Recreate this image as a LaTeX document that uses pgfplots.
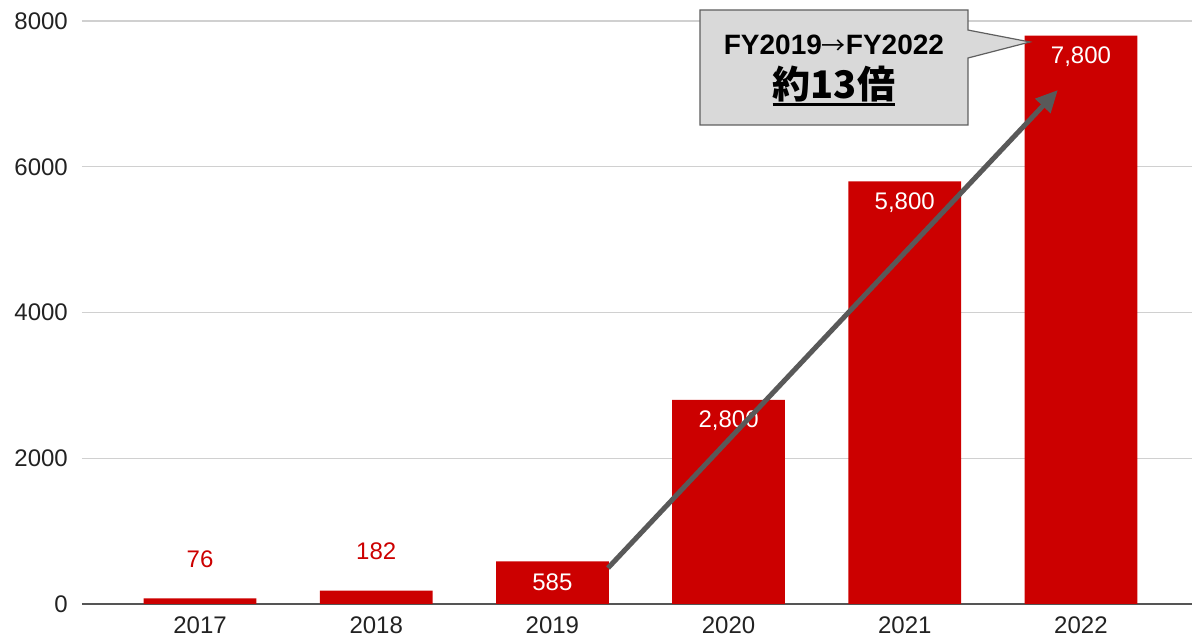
\documentclass[border=0pt]{standalone}
\usepackage{pgfplots}
\pgfplotsset{compat=1.18}
\usepackage{fontspec}
\setmainfont{Liberation Sans}
\newfontfamily\cjk{Noto Sans CJK JP}
\usetikzlibrary{arrows.meta}
\definecolor{barred}{HTML}{CC0000}
\definecolor{gridgray}{HTML}{D0D0D0}
\definecolor{axisgray}{HTML}{555555}
\definecolor{boxgray}{HTML}{D9D9D9}
\definecolor{boxborder}{HTML}{5F5F5F}
\definecolor{arrowgray}{HTML}{595959}
\definecolor{txt}{HTML}{222222}
\begin{document}
\begin{tikzpicture}
\begin{axis}[name=ax, scale only axis, width=1110pt, height=583pt,
  xmin=-0.67, xmax=5.63, ymin=0, ymax=8000,
  xtick={0,1,2,3,4,5}, xticklabels={2017,2018,2019,2020,2021,2022},
  ytick={0,2000,4000,6000,8000},
  ymajorgrids, grid style={draw=gridgray, line width=1.3pt},
  axis line style={draw=none}, major tick length=0pt,
  tick label style={font=\fontsize{24}{28}\selectfont, text=txt},
  yticklabel style={anchor=east, inner sep=0pt, xshift=-14pt},
  xticklabel style={anchor=north, inner sep=0pt, yshift=-13pt},
  /pgf/number format/assume math mode=true,
  /pgf/number format/1000 sep={},
  extra y ticks={0}, extra y tick labels={},
  extra y tick style={grid style={draw=axisgray, line width=1.6pt}},
  clip=false, ybar, bar width=0.64,
]
\addplot[fill=barred, draw=none, bar shift=0pt,
  nodes near coords={\pgfmathprintnumber[assume math mode=true,1000 sep={,}]{\pgfplotspointmeta}},
  nodes near coords style={font=\fontsize{24}{28}\selectfont, text=barred, anchor=center, yshift=39pt}]
  coordinates {(0,76) (1,182)};
\addplot[fill=barred, draw=none, bar shift=0pt,
  nodes near coords={\pgfmathprintnumber[assume math mode=true,1000 sep={,}]{\pgfplotspointmeta}},
  nodes near coords style={font=\fontsize{24}{28}\selectfont, text=white, anchor=center, yshift=-21pt}]
  coordinates {(2,585) (3,2800) (4,5800) (5,7800)};
\coordinate (arrA) at (axis cs:2.3156,494);
\coordinate (arrB) at (axis cs:4.869,7053);
\coordinate (b1) at (axis cs:2.8377,8151);
\coordinate (b2) at (axis cs:4.3587,8151);
\coordinate (b3) at (axis cs:4.3587,7876);
\coordinate (b4) at (axis cs:4.7106,7712);
\coordinate (b5) at (axis cs:4.3587,7492);
\coordinate (b6) at (axis cs:4.3587,6573);
\coordinate (b7) at (axis cs:2.8377,6573);
\coordinate (t1) at (axis cs:3.598,7671);
\coordinate (t2) at (axis cs:3.598,7135);
\end{axis}
\draw[line width=5pt, draw=arrowgray, -{Triangle[length=22pt,width=20pt]}] (arrA) -- (arrB);
\draw[fill=boxgray, draw=boxborder, line width=1.2pt]
  (b1) -- (b2) -- (b3) -- (b4) -- (b5) -- (b6) -- (b7) -- cycle;
\node[font=\fontsize{28}{32}\selectfont\bfseries, text=black] at (t1) {FY2019{\cjk\mdseries\fontsize{24}{28}\selectfont →}FY2022};
\node[font=\cjk\fontsize{38}{42}\selectfont\bfseries, text=black, inner sep=0pt] (u) at (t2) {約13倍};
\draw[line width=2.6pt, black] ([yshift=-2pt]u.south west) -- ([yshift=-2pt]u.south east);
\pgfresetboundingbox
\path (ax.south west) ++(-82pt,-36pt) rectangle ++(1192pt,640pt);
\end{tikzpicture}
\end{document}
